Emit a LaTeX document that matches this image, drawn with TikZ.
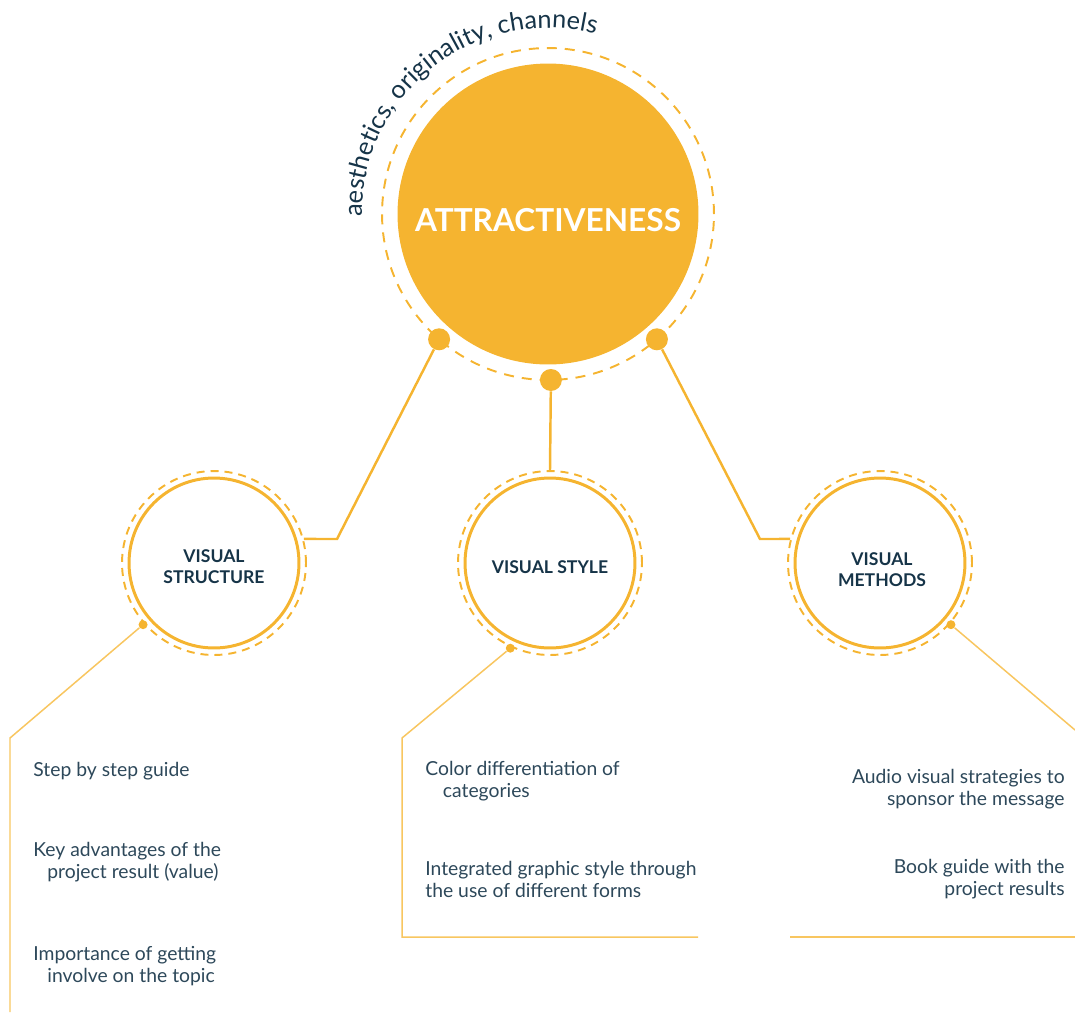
\documentclass[tikz,border=0pt]{standalone}
\usepackage{fontspec}
\setmainfont{Lato}
\usetikzlibrary{positioning,calc,decorations.text}

\definecolor{gold}{RGB}{245,180,48}
\definecolor{lightgold}{RGB}{248,198,96}
\definecolor{navy}{RGB}{22,52,72}

\tikzset{
    hub/.style={circle, fill=gold, minimum size=6.02cm, inner sep=0pt},
    ring/.style={circle, draw=gold, dash pattern=on 2mm off 1.6mm, line width=1.1pt, inner sep=0pt},
    topic/.style={circle, draw=gold, line width=1.7pt, minimum size=3.4cm, inner sep=0pt, align=center,
                  text=navy, font=\fontsize{10}{12}\selectfont\bfseries},
    bigdot/.style={circle, fill=gold, minimum size=0.44cm, inner sep=0pt},
    smalldot/.style={circle, fill=gold, minimum size=0.18cm, inner sep=0pt},
    link/.style={draw=gold, line width=1.4pt},
    leader/.style={draw=lightgold, line width=0.85pt},
    item/.style={text=navy!90, font=\fontsize{11}{12.5}\selectfont, inner sep=0pt}
}

\begin{document}
\begin{tikzpicture}[x=0.02cm, y=0.02cm]
    \useasboundingbox (0,0) rectangle (1075,-1012);

    % main circle with dashed ring
    \node[hub] (attr) at (548,-214) {};
    \node[ring, minimum size=6.64cm] (attrring) at (attr) {};
    \node[text=white, font=\fontsize{18}{20}\selectfont\bfseries] (attrlabel) at (548,-220) {ATTRACTIVENESS};

    % curved caption
    \path[decorate, decoration={text along path, text align=center,
        text={|\fontsize{14.4}{16}\selectfont\color{navy}|aesthetics, originality, channels}}]
        ($(attr)+(182:186)$) arc[start angle=182, end angle=74, radius=186];

    % dots on the ring
    \node[bigdot] (dl) at ($(attr)+(229:166)$) {};
    \node[bigdot] (dm) at ($(attr)+(271:166)$) {};
    \node[bigdot] (dr) at ($(attr)+(311:166)$) {};

    % three topic circles
    \node[topic] (struct) at (214,-563) {};
    \node[ring, minimum size=3.68cm, dash pattern=on 1.6mm off 1.2mm] (structring) at (struct) {};
    \node[text=navy, font=\fontsize{10}{12}\selectfont\bfseries, align=center] (structlabel) at (214,-567) {VISUAL\\STRUCTURE};
    \node[topic] (style) at (550,-563) {};
    \node[ring, minimum size=3.68cm, dash pattern=on 1.6mm off 1.2mm] (stylering) at (style) {};
    \node[text=navy, font=\fontsize{10}{12}\selectfont\bfseries] (stylelabel) at (550,-567) {VISUAL STYLE};
    \node[topic] (meth) at (880,-563) {};
    \node[ring, minimum size=3.68cm, dash pattern=on 1.6mm off 1.2mm] (methring) at (meth) {};
    \node[text=navy, font=\fontsize{10}{12}\selectfont\bfseries, align=center] (methlabel) at (882,-570) {VISUAL\\METHODS};

    % connectors from the main circle
    \draw[link] (dl) -- (337,-539) -- (structring.15);
    \draw[link] (dm) -- (stylering.north);
    \draw[link] (dr) -- (760,-539) -- (methring.165);

    % small dots and leaders
    \node[smalldot] (sdl) at ($(struct)+(221:94)$) {};
    \node[smalldot] (sdm) at ($(style)+(245:94)$) {};
    \node[smalldot] (sdr) at ($(meth)+(319:94)$) {};
    \coordinate (endl) at (10,-1012);
    \coordinate (endm) at (698,-937);
    \coordinate (endr) at (1075,-730);
    \coordinate (barl) at (790,-937);
    \coordinate (barr) at (1075,-937);
    \draw[leader] (sdl) -- (10,-738) -- (endl);
    \draw[leader] (sdm) -- (402,-738) -- (402,-937) -- (endm);
    \draw[leader] (sdr) -- (endr);
    \draw[leader, line width=1.2pt] (barl) -- (barr);

    % items under visual structure
    \node[item, anchor=west, align=left] (s1) at (33,-771) {Step by step guide};
    \node[item, anchor=west, align=left] (s2) at (33,-862) {Key advantages of the\\\hspace*{8pt}project result (value)};
    \node[item, anchor=west, align=left] (s3) at (33,-966) {Importance of getting\\\hspace*{8pt}involve on the topic};

    % items under visual style
    \node[item, anchor=west, align=left] (m1) at (425,-781) {Color differentiation of\\\hspace*{10pt}categories};
    \node[item, anchor=west, align=left] (m2) at (425,-879) {Integrated graphic style through\\the use of different forms};

    % items under visual methods
    \node[item, anchor=east, align=right] (r1) at (1065,-789) {Audio visual strategies to\\sponsor the message};
    \node[item, anchor=east, align=right] (r2) at (1065,-879) {Book guide with the\\project results};
\end{tikzpicture}
\end{document}
